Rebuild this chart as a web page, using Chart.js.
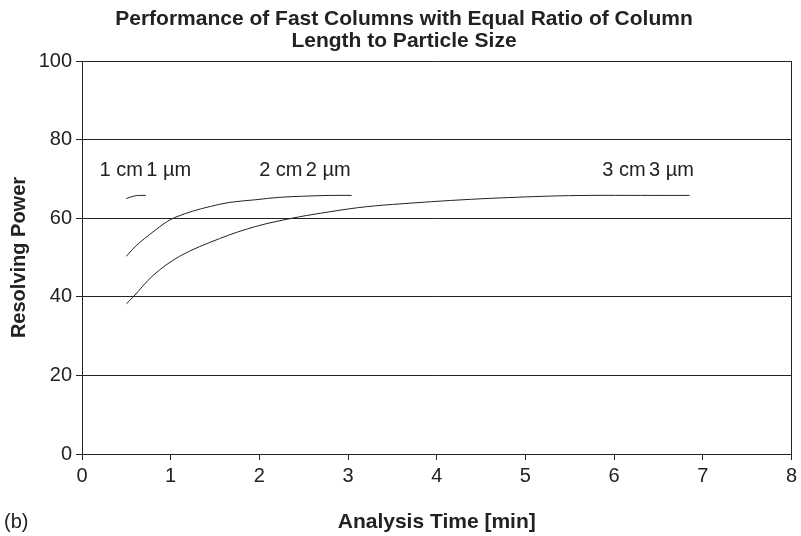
<!DOCTYPE html>
<html>
<head>
<meta charset="utf-8">
<script src="https://cdn.jsdelivr.net/npm/chart.js@4/dist/chart.umd.min.js"></script>
<style>
  html, body { margin: 0; padding: 0; background: #fff; }
  #wrap { width: 801px; height: 536px; position: relative; }
</style>
</head>
<body>
<div id="wrap"><canvas id="chart" width="801" height="536"></canvas></div>
<script>
// data
const x1cm = [0.5, 0.55, 0.6, 0.65, 0.72];
const y1cm = [65.0, 65.4, 65.7, 65.8, 65.8];

const x2cm = [0.5, 0.61, 0.8, 0.95, 1.06, 1.25, 1.45, 1.66, 1.96, 2.22, 2.5, 2.8, 3.04];
const y2cm = [50.3, 53.0, 56.5, 59.0, 60.3, 61.8, 63.0, 64.0, 64.7, 65.3, 65.6, 65.8, 65.8];

const x3cm = [0.5, 0.575, 0.8, 1.1, 1.55, 1.96, 2.37, 2.7, 3.12, 3.5, 4.38, 5.24, 5.73, 6.3, 6.85];
const y3cm = [38.2, 39.9, 45.4, 50.3, 54.8, 57.9, 60.0, 61.3, 62.7, 63.5, 64.8, 65.6, 65.8, 65.8, 65.8];

const curveLabels = ["1 cm\u20061 µm", "2 cm\u20062 µm", "3 cm\u20063 µm"];
const labelEndX = [1.23, 3.03, 6.9];
const labelY = [72.2, 72.2, 72.2];

const xTicks = [0, 1, 2, 3, 4, 5, 6, 7, 8];
const yTicks = [0, 20, 40, 60, 80, 100];

const titleLines = ["Performance of Fast Columns with Equal Ratio of Column", "Length to Particle Size"];
const xTitle = "Analysis Time [min]";
const yTitle = "Resolving Power";
const panelTag = "(b)";

const FONT = "'Liberation Sans', Arial, sans-serif";
const INK = "#222";

function pts(xs, ys) {
  return xs.map((x, i) => ({ x: x, y: ys[i] }));
}

function curve(xs, ys) {
  return {
    data: pts(xs, ys),
    showLine: true,
    borderColor: INK,
    borderWidth: 1,
    pointRadius: 0,
    tension: 0.35,
    fill: false,
  };
}

// text that is not part of the scales
const textPlugin = {
  id: "textPlugin",
  afterDraw(chart) {
    const ctx = chart.ctx;
    const xs = chart.scales.x;
    const ys = chart.scales.y;
    const area = chart.chartArea;
    ctx.save();
    ctx.fillStyle = INK;

    // curve labels
    ctx.font = "20px " + FONT;
    ctx.textAlign = "right";
    ctx.textBaseline = "middle";
    curveLabels.forEach((t, i) => {
      ctx.fillText(t, xs.getPixelForValue(labelEndX[i]), ys.getPixelForValue(labelY[i]));
    });

    // title
    ctx.font = "bold 21px " + FONT;
    ctx.textAlign = "center";
    ctx.fillText(titleLines[0], 404, 19);
    ctx.fillText(titleLines[1], 404, 41);

    // x axis title and tag
    ctx.fillText(xTitle, (area.left + area.right) / 2, 522);
    ctx.font = "20px " + FONT;
    ctx.textAlign = "left";
    ctx.fillText(panelTag, 4, 522);

    // y axis title
    ctx.font = "bold 20px " + FONT;
    ctx.translate(19, (area.top + area.bottom) / 2);
    ctx.rotate(-Math.PI / 2);
    ctx.textAlign = "center";
    ctx.fillText(yTitle, 0, 0);
    ctx.restore();
  },
};

new Chart(document.getElementById("chart"), {
  type: "scatter",
  data: {
    datasets: [curve(x1cm, y1cm), curve(x2cm, y2cm), curve(x3cm, y3cm)],
  },
  options: {
    responsive: false,
    animation: false,
    events: [],
    layout: { padding: { left: 0, right: 6, top: 61, bottom: 0 } },
    plugins: {
      legend: { display: false },
      tooltip: { enabled: false },
      title: { display: false },
    },
    scales: {
      x: {
        type: "linear",
        min: 0,
        max: 8,
        afterBuildTicks: s => { s.ticks = xTicks.map(v => ({ value: v })); },
        afterFit: s => { s.height = 536 - 454; },
        ticks: { color: INK, font: { family: FONT, size: 20 }, padding: 4, maxRotation: 0 },
        grid: {
          color: c => (c.tick && c.tick.value === 8 ? INK : "rgba(0,0,0,0)"),
          tickColor: INK,
          tickLength: 6,
          lineWidth: 1,
        },
        border: { color: INK, width: 1 },
      },
      y: {
        type: "linear",
        min: 0,
        max: 100,
        afterBuildTicks: s => { s.ticks = yTicks.map(v => ({ value: v })); },
        afterFit: s => { s.width = 82; },
        ticks: { color: INK, font: { family: FONT, size: 20 }, padding: 4 },
        grid: { color: INK, tickColor: INK, tickLength: 6, lineWidth: 1 },
        border: { color: INK, width: 1 },
      },
    },
  },
  plugins: [textPlugin],
});
</script>
</body>
</html>
